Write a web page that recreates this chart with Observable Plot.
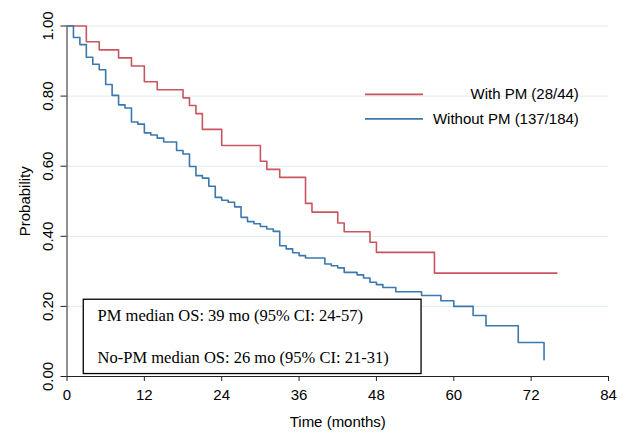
<!DOCTYPE html>
<html><head><meta charset="utf-8">
<script src="https://cdn.jsdelivr.net/npm/d3@7"></script>
<script src="https://cdn.jsdelivr.net/npm/@observablehq/plot@0.6"></script>
<style>html,body{margin:0;padding:0;background:#fff;}</style>
</head><body><div id="chart"></div>
<script>
// ---- data ----
const xTicks = [0, 12, 24, 36, 48, 60, 72, 84];
const yTicks = [0, 0.2, 0.4, 0.6, 0.8, 1.0];

const seriesNames = ["With PM (28/44)", "Without PM (137/184)"];

const pmTime = [0, 3, 5, 8, 10, 12, 14, 18, 19, 20, 21, 24, 30, 31, 33, 37, 38, 42, 43, 47, 48, 57, 76];
const pmSurv = [1, 0.955, 0.932, 0.909, 0.886, 0.841, 0.818, 0.795, 0.773, 0.750, 0.705, 0.659, 0.614, 0.591, 0.568, 0.494, 0.469, 0.438, 0.413, 0.383, 0.354, 0.295, 0.295];

const noPmTime = [0, 1, 2, 3, 4, 5, 6, 7, 8, 9, 10, 11, 12, 13, 14, 15, 17, 18, 19, 20, 21, 22, 23, 24, 25, 26, 27, 28, 29, 30, 31, 32, 33, 34, 35, 36, 37, 40, 41, 42, 43, 45, 46, 47, 48, 49, 51, 55, 58, 60, 63, 65, 70, 74];
const noPmSurv = [1, 0.967, 0.947, 0.911, 0.891, 0.875, 0.833, 0.802, 0.775, 0.766, 0.726, 0.720, 0.695, 0.689, 0.680, 0.669, 0.645, 0.635, 0.599, 0.573, 0.566, 0.543, 0.511, 0.503, 0.497, 0.484, 0.454, 0.442, 0.436, 0.428, 0.421, 0.414, 0.373, 0.364, 0.353, 0.345, 0.338, 0.321, 0.316, 0.310, 0.297, 0.290, 0.281, 0.269, 0.262, 0.254, 0.242, 0.231, 0.216, 0.200, 0.174, 0.145, 0.097, 0.048];

const boxLines = ["PM median OS: 39 mo (95% CI: 24-57)", "No-PM median OS: 26 mo (95% CI: 21-31)"];

// ---- styling / annotation layout (in data units) ----
const colors = ["#c8555f", "#3b78ad"];
const legendLayout = {x1: 46.3, x2: 55.3, textX: 79.4, y: [0.805, 0.735]};
const boxLayout = {x1: 2.6, x2: 55, y1: 0.007, y2: 0.219, textX: 4.75, textY: [0.174, 0.055]};

const pmData = pmTime.map((t, i) => ({t, s: pmSurv[i]}));
const noPmData = noPmTime.map((t, i) => ({t, s: noPmSurv[i]}));

const sans = "'Liberation Sans', Arial, Helvetica, sans-serif";
const serif = "'Liberation Serif', 'Times New Roman', serif";

const chart = Plot.plot({
  width: 629, height: 435,
  marginLeft: 66.5, marginRight: 21, marginTop: 25.5, marginBottom: 59,
  style: {fontFamily: sans, fontSize: "15px", background: "#fff", color: "#000"},
  x: {domain: [0, 84]},
  y: {domain: [0, 1]},
  marks: [
    Plot.gridY(yTicks.filter(d => d > 0), {stroke: "#dfeaef", strokeOpacity: 1, strokeWidth: 1}),
    Plot.ruleX([0], {stroke: "#222", strokeWidth: 1}),
    Plot.ruleY([0], {stroke: "#222", strokeWidth: 1}),
    Plot.axisX(xTicks, {tickSize: 5, tickPadding: 8, label: "Time (months)", labelAnchor: "center", labelArrow: "none", labelOffset: 50, fontSize: 15, stroke: "#222"}),
    Plot.axisY(yTicks, {tickFormat: d3.format(".2f"), tickRotate: -90, tickSize: 6, tickPadding: 8, label: "Probability", labelAnchor: "center", labelArrow: "none", labelOffset: 48, fontSize: 15, stroke: "#222"}),
    Plot.line(pmData, {x: "t", y: "s", curve: "step-after", stroke: colors[0], strokeWidth: 1.6}),
    Plot.line(noPmData, {x: "t", y: "s", curve: "step-after", stroke: colors[1], strokeWidth: 1.6}),
    // legend
    Plot.ruleY([legendLayout.y[0]], {x1: legendLayout.x1, x2: legendLayout.x2, stroke: colors[0], strokeWidth: 1.6}),
    Plot.ruleY([legendLayout.y[1]], {x1: legendLayout.x1, x2: legendLayout.x2, stroke: colors[1], strokeWidth: 1.6}),
    Plot.text(seriesNames, {x: seriesNames.map(() => legendLayout.textX), y: legendLayout.y, text: d => d, textAnchor: "end", lineAnchor: "middle", fontSize: 15, fill: "#000"}),
    // annotation box
    Plot.rect([boxLayout], {x1: "x1", x2: "x2", y1: "y1", y2: "y2", fill: "white", stroke: "#000", strokeWidth: 1.3}),
    Plot.text(boxLines, {x: boxLines.map(() => boxLayout.textX), y: boxLayout.textY, text: d => d, textAnchor: "start", lineAnchor: "middle", fontFamily: serif, fontSize: 16.5, fill: "#000"})
  ]
});
document.getElementById("chart").appendChild(chart);
</script>
</body></html>
